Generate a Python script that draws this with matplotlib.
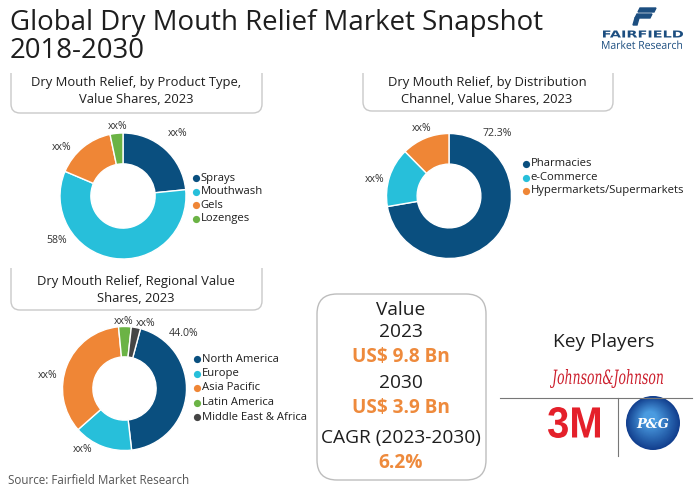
import matplotlib
matplotlib.use('Agg')
import matplotlib.pyplot as plt
import numpy as np
from matplotlib.patches import FancyBboxPatch, Circle, Polygon, PathPatch
from matplotlib.path import Path
from matplotlib.textpath import TextPath
from matplotlib.font_manager import FontProperties
from matplotlib.transforms import Affine2D
from matplotlib.colors import to_rgb

# ---------------- data ----------------
product_labels = ['Sprays', 'Mouthwash', 'Gels', 'Lozenges']
product_values = [23.4, 58.0, 15.3, 3.3]
product_texts = ['xx%', '58%', 'xx%', 'xx%']

channel_labels = ['Pharmacies', 'e-Commerce', 'Hypermarkets/Supermarkets']
channel_values = [72.3, 15.3, 12.4]
channel_texts = ['72.3%', 'xx%', 'xx%']

region_labels = ['North America', 'Europe', 'Asia Pacific', 'Latin America', 'Middle East & Africa']
region_values = [44.0, 15.3, 35.0, 3.3, 2.4]
region_texts = ['44.0%', 'xx%', 'xx%', 'xx%', 'xx%']

value_lines = ['Value', '2023', 'US$ 9.8 Bn', '2030', 'US$ 3.9 Bn', 'CAGR (2023-2030)', '6.2%']

# ---------------- style ----------------
DBLUE = '#0A4F7F'
CYAN = '#27BFDA'
ORANGE = '#EF8636'
GREEN = '#6BB345'
DGRAY = '#454545'
TXT = '#1E1E1E'
OTXT = '#EE8A3C'
FONT = 'Open Sans'

W, H = 700, 491
fig = plt.figure(figsize=(7, 4.91), dpi=100)
ov = fig.add_axes([0, 0, 1, 1])
ov.set_xlim(0, W)
ov.set_ylim(H, 0)
ov.axis('off')
fig.canvas.draw()
rend = fig.canvas.get_renderer()


def fit_size(s, target, weight='normal', family=FONT, style='normal', base=10):
    t = ov.text(0, 0, s, fontsize=base, fontweight=weight, family=family, style=style)
    w = t.get_window_extent(renderer=rend).width
    t.remove()
    return base * target / w


def donut(cx, cy, R, vals, colors, start):
    ax = fig.add_axes([(cx - R) / W, 1 - (cy + R) / H, 2 * R / W, 2 * R / H])
    ax.pie(vals, colors=colors, startangle=start, counterclock=False, radius=1,
           wedgeprops=dict(width=0.49, edgecolor='white', linewidth=1.0))
    ax.set_xlim(-1, 1)
    ax.set_ylim(-1, 1)
    ax.set_aspect('equal')
    ax.axis('off')
    return ax


def open_box(x0, x1, ytop, ybot, r=9, color='#C9C9C9'):
    verts = [(x0, ytop), (x0, ybot - r), (x0, ybot), (x0 + r, ybot),
             (x1 - r, ybot), (x1, ybot), (x1, ybot - r), (x1, ytop)]
    codes = [Path.MOVETO, Path.LINETO, Path.CURVE3, Path.CURVE3,
             Path.LINETO, Path.CURVE3, Path.CURVE3, Path.LINETO]
    ov.add_patch(PathPatch(Path(verts, codes), fill=False, edgecolor=color, lw=1.0))


def legend(x, y0, dy, labels, colors, fs):
    for i, (lab, c) in enumerate(zip(labels, colors)):
        y = y0 + i * dy
        ov.plot([x], [y], 'o', color=c, ms=5.2, mec='none')
        ov.text(x + 4.5, y, lab, fontsize=fs, family=FONT, color=TXT, va='center', ha='left')


def path_in_box(s, x0, x1, y0, y1, color, family, weight='normal', style='normal'):
    tp = TextPath((0, 0), s, size=10, prop=FontProperties(family=family, weight=weight, style=style))
    ext = tp.get_extents()
    sx = (x1 - x0) / ext.width
    sy = (y1 - y0) / ext.height
    tr = Affine2D().translate(-ext.x0, -ext.y0).scale(sx, -sy).translate(x0, y1)
    ov.add_patch(PathPatch(tr.transform_path(tp), facecolor=color, edgecolor='none'))


# ---------------- title ----------------
ts = fit_size('Global Dry Mouth Relief Market Snapshot', 534)
ov.text(10, 23, 'Global Dry Mouth Relief Market Snapshot', fontsize=ts, family=FONT, color=TXT, va='center')
ov.text(10, 51, '2018-2030', fontsize=ts, family=FONT, color=TXT, va='center')

# Fairfield logo
LB = '#1C4E80'
ov.add_patch(Polygon([(640, 8), (656, 8), (654, 12), (638, 12)], closed=True, color=LB))
ov.add_patch(Polygon([(637, 14), (652, 14), (650, 18), (635, 18)], closed=True, color=LB))
ov.add_patch(Polygon([(635, 18), (639, 18), (637, 25), (633, 25)], closed=True, color=LB))
path_in_box('FAIRFIELD', 603, 683, 30.5, 37.5, LB, 'DejaVu Sans', weight='bold')
path_in_box('Market Research', 602, 682, 40.5, 49.0, LB, FONT)

# ---------------- section boxes ----------------
bs = fit_size('Dry Mouth Relief, by Product Type,', 210)
open_box(11, 262, 73, 113)
ov.text(136, 82, 'Dry Mouth Relief, by Product Type,', fontsize=bs, family=FONT, color=TXT, ha='center', va='center')
ov.text(136, 99, 'Value Shares, 2023', fontsize=bs, family=FONT, color=TXT, ha='center', va='center')

open_box(363, 613, 73, 111)
ov.text(487, 82, 'Dry Mouth Relief, by Distribution', fontsize=bs, family=FONT, color=TXT, ha='center', va='center')
ov.text(487, 99, 'Channel, Value Shares, 2023', fontsize=bs, family=FONT, color=TXT, ha='center', va='center')

open_box(11, 262, 268, 310)
ov.text(136, 281, 'Dry Mouth Relief, Regional Value', fontsize=bs, family=FONT, color=TXT, ha='center', va='center')
ov.text(136, 298, 'Shares, 2023', fontsize=bs, family=FONT, color=TXT, ha='center', va='center')

# ---------------- donuts ----------------
ls = fit_size('Mouthwash', 62)
ps = 7.6

donut(123, 196, 63, product_values, [DBLUE, CYAN, ORANGE, GREEN], 90)
for (x, y), s in zip([(178, 133), (57, 240), (62, 148), (118, 126)], product_texts):
    ov.text(x, y, s, fontsize=ps, family=FONT, color='#333333', ha='center', va='center')
legend(196, 178, 13.5, product_labels, [DBLUE, CYAN, ORANGE, GREEN], ls)

donut(449, 196, 62.5, channel_values, [DBLUE, CYAN, ORANGE], 90)
for (x, y), s in zip([(497, 134), (375, 179), (422, 128)], channel_texts):
    ov.text(x, y, s, fontsize=ps, family=FONT, color='#333333', ha='center', va='center')
legend(526, 164, 13.5, channel_labels, [DBLUE, CYAN, ORANGE], ls)

donut(124.5, 388.5, 62, region_values, [DBLUE, CYAN, ORANGE, GREEN, DGRAY], 75)
for (x, y), s in zip([(184, 333), (83, 450), (48, 375), (124, 322), (146, 323)], region_texts):
    ov.text(x, y, s, fontsize=ps, family=FONT, color='#333333', ha='center', va='center')
legend(197, 359, 14.5, region_labels, [DBLUE, CYAN, ORANGE, GREEN, DGRAY], ls)

# ---------------- value box ----------------
ov.add_patch(FancyBboxPatch((317, 294), 169, 186, boxstyle='round,pad=0,rounding_size=20',
                            facecolor='none', edgecolor='#BDBDBD', lw=1.0))
vs = fit_size('CAGR (2023-2030)', 159)
vb = fit_size('US$ 9.8 Bn', 98, weight='bold')
for s, y in zip(value_lines, [310, 332, 357, 383, 408, 438, 463]):
    orange = s.startswith('US$') or s.endswith('%')
    ov.text(401, y, s, fontsize=vb if orange else vs, family=FONT,
            weight='bold' if orange else 'normal', color=OTXT if orange else TXT,
            ha='center', va='center')

# ---------------- key players ----------------
kp = fit_size('Key Players', 101)
ov.text(604, 342, 'Key Players', fontsize=kp, family=FONT, color=TXT, ha='center', va='center')
path_in_box('Johnson&Johnson', 550, 663, 369, 388, '#CC1F2D', 'DejaVu Serif', style='italic')
ov.plot([500, 692], [398, 398], color='#777777', lw=0.8)
ov.plot([618, 618], [398, 456], color='#777777', lw=0.8)
path_in_box('3M', 548, 600, 407, 438, '#E4202A', 'Liberation Sans', weight='bold')
c_out = np.array(to_rgb('#123F8E'))
c_in = np.array(to_rgb('#4A9BE0'))
n = 30
for i in range(n):
    f = i / (n - 1)
    rr = 27 * (1 - 0.75 * f)
    col = c_out * (1 - f) + c_in * f
    ov.add_patch(Circle((653 - 3 * f, 423 - 5 * f), rr, color=tuple(col), lw=0))
pg = fit_size('P&G', 33, weight='bold', family='DejaVu Serif', style='italic')
ov.text(653, 424, 'P&G', fontsize=pg, family='DejaVu Serif', style='italic', weight='bold',
        color='white', ha='center', va='center')

# ---------------- source ----------------
ss = fit_size('Source: Fairfield Market Research', 181)
ov.text(8, 481, 'Source: Fairfield Market Research', fontsize=ss, family=FONT, color='#555555', va='center')

fig.savefig('out.png', dpi=100)
